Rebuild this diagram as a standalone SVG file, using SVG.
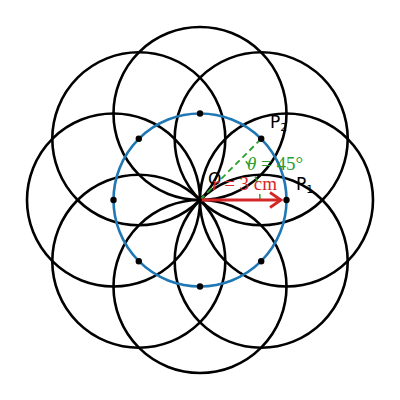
<svg xmlns="http://www.w3.org/2000/svg" width="400" height="400" viewBox="0 0 400 400">
<defs>
<style>
.c{fill:none;stroke:#000;stroke-width:2.6}
.d{fill:#000}
.lbl{font-family:"DejaVu Sans","Liberation Sans",sans-serif;font-size:17px;fill:#000}
.m{font-family:"Liberation Serif","DejaVu Serif",serif;font-size:19px}
</style>
</defs>
<rect width="400" height="400" fill="#fff"/>
<g id="circles">
<circle id="c0" class="c" cx="286.5" cy="200" r="86.5"/>
<circle id="c1" class="c" cx="261.2" cy="138.8" r="86.5"/>
<circle id="c2" class="c" cx="200" cy="113.5" r="86.5"/>
<circle id="c3" class="c" cx="138.8" cy="138.8" r="86.5"/>
<circle id="c4" class="c" cx="113.5" cy="200" r="86.5"/>
<circle id="c5" class="c" cx="138.8" cy="261.2" r="86.5"/>
<circle id="c6" class="c" cx="200" cy="286.5" r="86.5"/>
<circle id="c7" class="c" cx="261.2" cy="261.2" r="86.5"/>
</g>
<g id="base">
<circle cx="200" cy="200" r="86.5" fill="none" stroke="#1f77b4" stroke-width="2.6"/>
</g>
<g id="connectors">
<line x1="200" y1="200" x2="261.2" y2="138.8" stroke="#2ca02c" stroke-width="1.8" stroke-dasharray="6,4"/>
<path d="M260,200 A60,60 0 0 0 242.4,157.6" fill="none" stroke="#2ca02c" stroke-width="1.5" stroke-dasharray="6,12"/>
<line x1="200" y1="200" x2="280" y2="200" stroke="#d62728" stroke-width="2.8"/>
<path d="M270,192.5 L281,200 L270,207.5" fill="none" stroke="#d62728" stroke-width="2.8" stroke-linejoin="miter"/>
</g>
<g id="points">
<circle class="d" cx="286.5" cy="200" r="3.2"/>
<circle class="d" cx="261.2" cy="138.8" r="3.2"/>
<circle class="d" cx="200" cy="113.5" r="3.2"/>
<circle class="d" cx="138.8" cy="138.8" r="3.2"/>
<circle class="d" cx="113.5" cy="200" r="3.2"/>
<circle class="d" cx="138.8" cy="261.2" r="3.2"/>
<circle class="d" cx="200" cy="286.5" r="3.2"/>
<circle class="d" cx="261.2" cy="261.2" r="3.2"/>
<circle class="d" cx="200" cy="200" r="2"/>
</g>
<g id="labels">
<text class="lbl" x="208" y="185">O</text>
<text class="lbl" x="270" y="128">P<tspan font-size="11" dy="3">2</tspan></text>
<text class="lbl" x="296" y="190">P<tspan font-size="11" dy="3">1</tspan></text>
<text class="m" x="247" y="170" fill="#2ca02c"><tspan font-style="italic">θ</tspan> = 45°</text>
<text class="m" x="212" y="190" fill="#d62728"><tspan font-style="italic">r</tspan> = 3 cm</text>
</g>
</svg>
